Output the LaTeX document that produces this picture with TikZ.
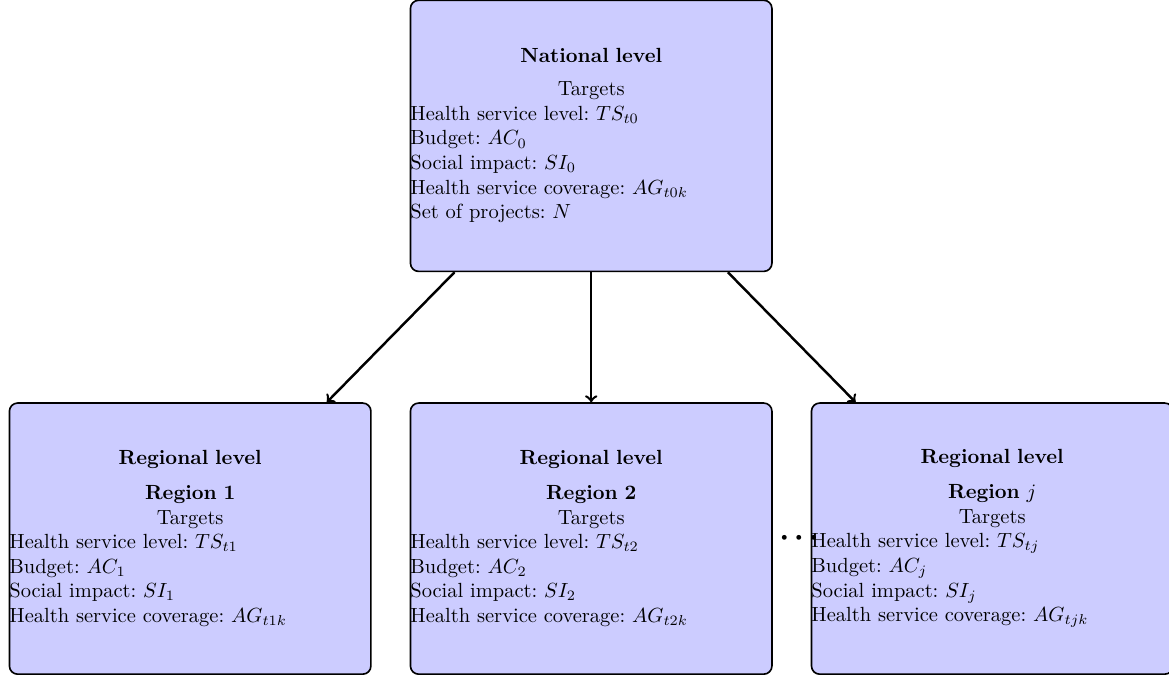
\documentclass[tikz,border=0pt]{standalone}
\usepackage{amssymb}
\usepackage{tikz}
\usepackage{xcolor}
\usetikzlibrary{arrows, calc, positioning}

\tikzset{
    levelbox/.style={draw, thick, rounded corners, fill=blue!20, text width=6.2cm, minimum height=4.65cm, inner sep=0pt, font=\frenchspacing},
}

\begin{document}
\begin{tikzpicture}[node distance=2.23cm and 0.65cm]
                        \useasboundingbox (-10.14, -9.31) rectangle (9.91, 2.33);
                        \node[levelbox] (nat) at (0, 0) {{\centering\textbf{National level}\\[4pt] Targets\par}\raggedright
                            Health service level: $TS_{t0}$\\
                            Budget: $AC_0$\\
                            Social impact: $SI_0$\\
                            Health service coverage: $AG_{t0k}$\\
                            Set of projects: $N$};
                        \node[levelbox, below=of nat] (r2) {{\centering\textbf{Regional level}\\[5pt] \textbf{Region 2}\\ Targets\par}\raggedright
                            Health service level: $TS_{t2}$\\
                            Budget: $AC_2$\\
                            Social impact: $SI_2$\\
                            Health service coverage: $AG_{t2k}$};
                        \node[levelbox, left=of r2] (r1) {{\centering\textbf{Regional level}\\[5pt] \textbf{Region 1}\\ Targets\par}\raggedright
                            Health service level: $TS_{t1}$\\
                            Budget: $AC_1$\\
                            Social impact: $SI_1$\\
                            Health service coverage: $AG_{t1k}$};
                        \node[levelbox, right=of r2] (rj) {{\centering\textbf{Regional level}\\[5pt] \textbf{Region $j$}\\ Targets\par}\raggedright
                            Health service level: $TS_{tj}$\\
                            Budget: $AC_j$\\
                            Social impact: $SI_j$\\
                            Health service coverage: $AG_{tjk}$};
                        \node[font=\footnotesize] (dots) at ([xshift=0.45cm]r2.east) {\textbullet\kern0.5pt\textbullet\kern0.5pt\textbullet};
                        \draw[line width=1.2pt]
                        ([xshift=0.77cm]nat.south west) edge[->] ([xshift=-0.77cm]r1.north east)
                        (nat.south) edge[->] (r2.north)
                        ([xshift=-0.77cm]nat.south east) edge[->] ([xshift=0.77cm]rj.north west);
                    \end{tikzpicture}
\end{document}
